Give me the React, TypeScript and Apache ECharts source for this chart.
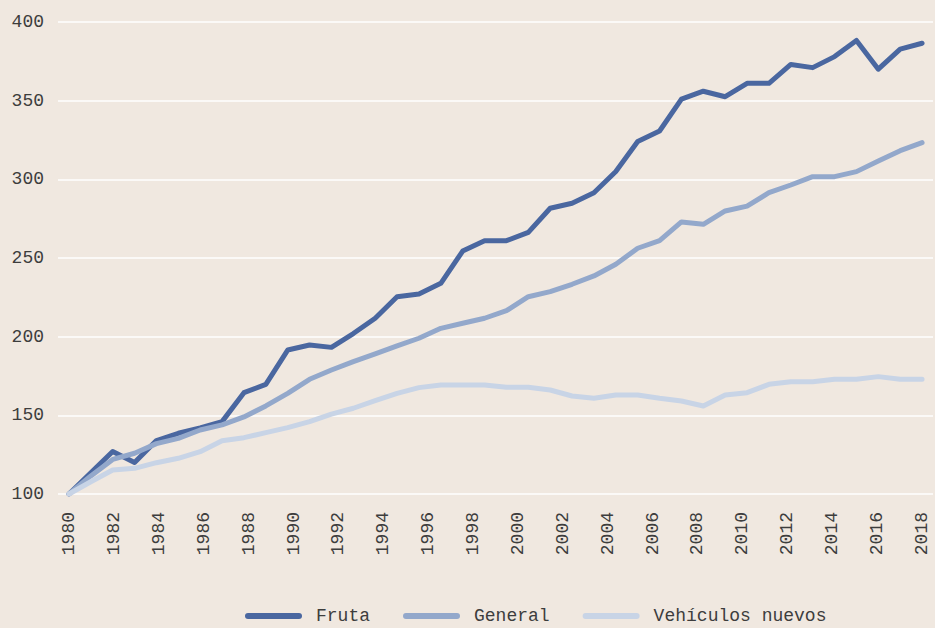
import React, { useEffect, useRef } from "react";
import * as echarts from "echarts";

const years = [
  "1980","1981","1982","1983","1984","1985","1986","1987","1988","1989",
  "1990","1991","1992","1993","1994","1995","1996","1997","1998","1999",
  "2000","2001","2002","2003","2004","2005","2006","2007","2008","2009",
  "2010","2011","2012","2013","2014","2015","2016","2017","2018",
];

// 40 observation periods spread across the 1980–2018 axis
const periods = [
  "p01","p02","p03","p04","p05","p06","p07","p08","p09","p10",
  "p11","p12","p13","p14","p15","p16","p17","p18","p19","p20",
  "p21","p22","p23","p24","p25","p26","p27","p28","p29","p30",
  "p31","p32","p33","p34","p35","p36","p37","p38","p39","p40",
];

const fruta = [
  100, 113.5, 127, 120, 134, 138.6, 142, 146, 164.4, 169.7,
  191.5, 194.7, 193.2, 202, 211.7, 225.4, 227.1, 233.9, 254.4, 261,
  261, 266.3, 281.6, 284.8, 291.5, 305, 324, 330.7, 351, 356,
  352.5, 361, 361, 373, 371, 378, 388.3, 370, 382.8, 386.5,
];

const general = [
  100, 111.5, 122, 125.9, 132, 135.4, 140.7, 143.9, 149, 156,
  164, 172.9, 178.8, 184.1, 189, 194.1, 199, 205.3, 208.5, 211.7,
  216.5, 225.4, 228.6, 233.3, 238.6, 246, 256.2, 261, 272.9, 271.4,
  279.9, 283, 291.5, 296.4, 301.7, 301.7, 304.9, 311.7, 318.2, 323.3,
];

const vehiculos = [
  100, 107.8, 115.3, 116.3, 119.9, 122.7, 126.9, 133.9, 135.8, 139,
  142.2, 146, 150.8, 154.5, 159.3, 164, 167.6, 169.3, 169.3, 169.3,
  167.8, 167.8, 166.1, 162.3, 160.8, 162.9, 162.9, 160.8, 159.1, 155.9,
  162.9, 164.4, 169.7, 171.4, 171.4, 172.9, 172.9, 174.6, 172.9, 172.9,
];

const yTicks = { min: 100, max: 400, interval: 50 };

const seriesNames = ["Fruta", "General", "Vehículos nuevos"];
const seriesColors = ["#4a67a0", "#93a8cb", "#c8d4e6"];

const FONT = "Liberation Mono";
const TEXT = "#3d3d3d";
const BG = "#f0e8e0";

export default function App() {
  const ref = useRef<HTMLDivElement>(null);

  useEffect(() => {
    document.body.style.margin = "0";
    document.body.style.background = BG;
    if (!ref.current) return;
    const chart = echarts.init(ref.current, undefined, { renderer: "svg" });
    const values = [fruta, general, vehiculos];
    chart.setOption({
      animation: false,
      backgroundColor: BG,
      grid: { left: 58, right: 2, top: 22, bottom: 134, containLabel: false },
      xAxis: [
        {
          type: "category",
          data: years,
          boundaryGap: true,
          axisLine: { show: false },
          axisTick: { show: false },
          splitLine: { show: false },
          axisLabel: {
            interval: 1,
            rotate: 90,
            margin: 18,
            fontFamily: FONT,
            fontSize: 18,
            color: TEXT,
          },
        },
        {
          type: "category",
          data: periods,
          boundaryGap: true,
          show: false,
        },
      ],
      yAxis: {
        type: "value",
        min: yTicks.min,
        max: yTicks.max,
        interval: yTicks.interval,
        axisLine: { show: false },
        axisTick: { show: false },
        axisLabel: {
          margin: 14,
          fontFamily: FONT,
          fontSize: 18,
          color: TEXT,
        },
        splitLine: { lineStyle: { color: "#ffffff", width: 1.5 } },
      },
      legend: {
        data: seriesNames,
        left: 240,
        top: 602,
        itemWidth: 57,
        itemHeight: 6,
        itemGap: 33,
        icon: "path://M3,0H54A3,3,0,0,1,54,6H3A3,3,0,0,1,3,0Z",
        textStyle: {
          fontFamily: FONT,
          fontSize: 18,
          color: TEXT,
          padding: [0, 0, 0, 9],
        },
      },
      series: seriesNames.map((name, i) => ({
        name,
        type: "line",
        xAxisIndex: 1,
        data: values[i],
        showSymbol: false,
        symbol: "none",
        color: seriesColors[i],
        lineStyle: { width: 5, color: seriesColors[i], cap: "round", join: "round" },
      })),
    });
    return () => chart.dispose();
  }, []);

  return <div ref={ref} style={{ width: 935, height: 628 }} />;
}
